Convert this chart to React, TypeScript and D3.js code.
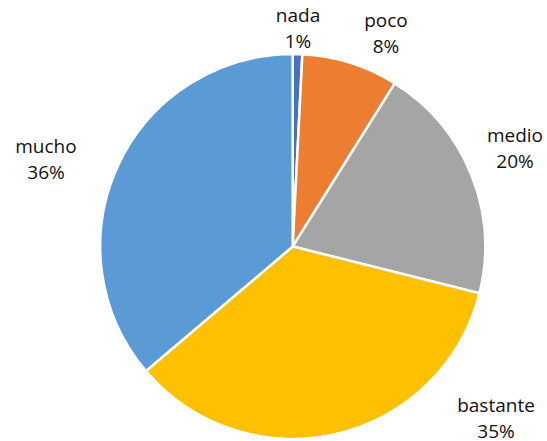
import React from "react";
import * as d3 from "d3";

const categories = ["nada", "poco", "medio", "bastante", "mucho"];
const values = [0.8, 8.1, 20.0, 34.9, 36.2];
const colors = ["#4472C4", "#ED7D31", "#A5A5A5", "#FFC000", "#5B9BD5"];
// label anchor positions (center x, first baseline y)
const labelPos: [number, number][] = [
  [298, 22],
  [386, 27],
  [515, 142],
  [496, 412],
  [46, 153],
];

export default function App() {
  const W = 547, H = 441;
  const cx = 292.7, cy = 246.5, r = 192.5;
  const pie = d3.pie<number>().sort(null).value((d) => d);
  const arcs = pie(values);
  const arc = d3.arc<d3.PieArcDatum<number>>().innerRadius(0).outerRadius(r);
  return (
    <svg width={W} height={H} style={{ position: "absolute", left: 0, top: 0, background: "#fff" }}
      fontFamily="'Open Sans', sans-serif">
      <g transform={`translate(${cx},${cy})`}>
        {arcs.map((a, i) => (
          <path key={i} d={arc(a) || ""} fill={colors[i]} stroke="#fff" strokeWidth={2.5} strokeLinejoin="round" />
        ))}
      </g>
      {categories.map((c, i) => (
        <text key={c} x={labelPos[i][0]} y={labelPos[i][1]} textAnchor="middle" fontSize={19} fill="#111">
          <tspan x={labelPos[i][0]}>{c}</tspan>
          <tspan x={labelPos[i][0]} dy={25.5}>{Math.round(values[i])}%</tspan>
        </text>
      ))}
    </svg>
  );
}
